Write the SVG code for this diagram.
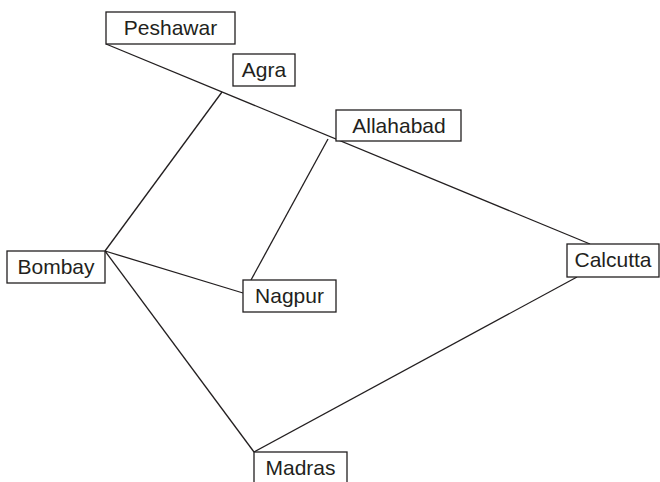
<svg xmlns="http://www.w3.org/2000/svg" width="660" height="482" viewBox="0 0 660 482">
<style>
.box{fill:#fff;stroke:#231f20;stroke-width:1.3}
.lbl{font-family:"Liberation Sans",Arial,sans-serif;font-size:21px;fill:#231f20;text-anchor:middle}
.edge{stroke:#231f20;stroke-width:1.3;fill:none}
</style>
<rect width="660" height="482" fill="#fff"/>
<g id="connectors">
<line class="edge" x1="106" y1="44" x2="590" y2="244"/>
<line class="edge" x1="222" y1="92" x2="105" y2="251"/>
<line class="edge" x1="328" y1="139" x2="251" y2="280"/>
<line class="edge" x1="105" y1="251" x2="243" y2="293"/>
<line class="edge" x1="105" y1="251" x2="254" y2="452"/>
<line class="edge" x1="254" y1="452" x2="577" y2="277"/>
</g>
<g id="peshawar"><rect class="box" x="106" y="12" width="129" height="32"/><text class="lbl" x="170.5" y="35">Peshawar</text></g>
<g id="agra"><rect class="box" x="233" y="54" width="62" height="32"/><text class="lbl" x="264" y="77">Agra</text></g>
<g id="allahabad"><rect class="box" x="336" y="110" width="125" height="31"/><text class="lbl" x="399" y="133">Allahabad</text></g>
<g id="bombay"><rect class="box" x="7" y="251" width="98" height="32"/><text class="lbl" x="56" y="274">Bombay</text></g>
<g id="nagpur"><rect class="box" x="243" y="280" width="93" height="32"/><text class="lbl" x="289.5" y="303">Nagpur</text></g>
<g id="calcutta"><rect class="box" x="567" y="244" width="92" height="33"/><text class="lbl" x="613" y="267">Calcutta</text></g>
<g id="madras"><rect class="box" x="254" y="452" width="93" height="34"/><text class="lbl" x="300.5" y="475">Madras</text></g>
</svg>
